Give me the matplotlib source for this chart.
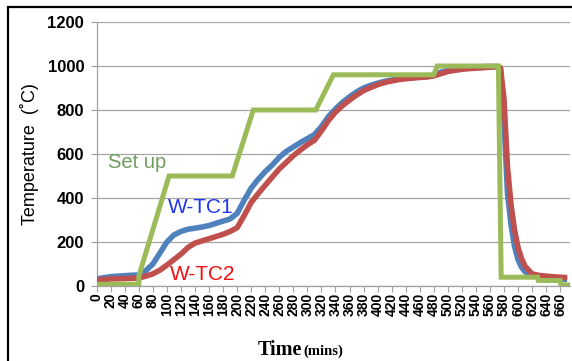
import matplotlib.pyplot as plt
from matplotlib.patches import Rectangle

# time axis (minutes) and readings
t_tc = [0, 10, 20, 30, 40, 50, 60, 70, 80, 90, 100, 110, 120, 130, 140, 150,
        160, 170, 180, 190, 200, 210, 220, 230, 240, 250, 260, 270, 280, 290,
        300, 310, 320, 330, 340, 350, 360, 370, 380, 390, 400, 410, 420, 430,
        440, 450, 460, 470, 480, 490, 500, 510, 520, 530, 540, 550, 560, 570,
        575, 580, 585, 590, 595, 600, 605, 610, 620, 630, 640, 650, 660, 670]

w_tc1 = [32, 38, 42, 45, 47, 49, 50, 70, 100, 150, 200, 232, 248, 258, 263, 268,
         275, 285, 295, 305, 330, 390, 445, 485, 520, 550, 585, 612, 632, 652,
         670, 688, 725, 770, 805, 835, 860, 882, 900, 912, 922, 930, 936, 942,
         945, 948, 950, 952, 958, 972, 980, 985, 990, 993, 995, 997, 998, 998,
         990, 750, 420, 280, 180, 120, 85, 65, 45, 40, 38, 35, 32, 30]

w_tc2 = [28, 30, 32, 33, 34, 35, 36, 45, 55, 72, 95, 120, 145, 175, 195, 205,
         215, 225, 235, 248, 265, 320, 380, 420, 458, 495, 532, 562, 592, 618,
         642, 662, 705, 752, 790, 820, 845, 868, 888, 902, 915, 925, 932, 938,
         942, 945, 948, 950, 955, 965, 975, 980, 985, 988, 990, 992, 995, 996,
         992, 850, 540, 370, 255, 175, 125, 90, 55, 48, 45, 42, 40, 38]

t_set = [0, 60, 60, 103, 193, 223, 312, 337, 480, 485, 572, 576, 628, 629, 660, 661, 674]
set_up = [8, 8, 45, 500, 500, 800, 800, 960, 960, 1000, 1000, 40, 40, 25, 25, 5, 5]

x_ticks = list(range(0, 661, 20))
y_ticks = [0, 200, 400, 600, 800, 1000, 1200]

fig = plt.figure(figsize=(5.72, 3.61), dpi=100)
ax = fig.add_axes([96.7 / 572, 1 - 286 / 361, (570 - 96.7) / 572, 264 / 361])

ax.plot(t_tc, w_tc1, color='#4F81BD', linewidth=4.0, solid_capstyle='butt', zorder=3)
ax.plot(t_tc, w_tc2, color='#C0504D', linewidth=4.0, solid_capstyle='butt', zorder=4)
ax.plot(t_set, set_up, color='#9BBB59', linewidth=3.6, solid_joinstyle='miter', zorder=5)

ax.text(16, 560, 'Set up', color='#6E9E5E', fontsize=14.5, va='center',
        family='Liberation Sans')
ax.text(102, 355, 'W-TC1', color='#1F35F0', fontsize=15, va='center',
        family='Liberation Sans')
ax.text(104, 50, 'W-TC2', color='#F01010', fontsize=15, va='center',
        family='Liberation Sans')

ax.set_xlim(0, 674)
ax.set_ylim(0, 1200)
ax.set_xticks(x_ticks)
ax.set_yticks(y_ticks)
ax.set_xticklabels([str(v) for v in x_ticks], rotation=90, fontsize=10,
                   fontweight='bold', family='Liberation Sans')
ax.set_yticklabels([str(v) for v in y_ticks], fontsize=12,
                   fontweight='bold', family='Liberation Sans')
ax.tick_params(axis='x', length=4, color='#A0A0A0', pad=1)
ax.tick_params(axis='y', length=4, color='#A0A0A0', pad=5)
ax.grid(axis='y', color='#A6A6A6', linewidth=0.9)
ax.set_axisbelow(True)
for side in ['top', 'right']:
    ax.spines[side].set_visible(False)
for side in ['left', 'bottom']:
    ax.spines[side].set_color('#A0A0A0')
    ax.spines[side].set_linewidth(0.9)

ax.set_ylabel('Temperature  (\u02daC)', fontsize=13, family='Liberation Sans', labelpad=6)

# x label: "Time" larger, "(mins)" smaller, Times-like bold
fig.text(302 / 572, 6 / 361, 'Time', fontsize=14.5, fontweight='bold',
         family='Liberation Serif', ha='right', va='baseline')
fig.text(303 / 572, 6 / 361, '(mins)', fontsize=10.5, fontweight='bold',
         family='Liberation Serif', ha='left', va='baseline')

# black frame around the chart area
fig.patches.append(Rectangle((8 / 572, -0.1), 1.2, 1 - 7 / 361 + 0.1,
                             transform=fig.transFigure, fill=False,
                             edgecolor='black', linewidth=1.6))

fig.savefig('out.png', dpi=100)
